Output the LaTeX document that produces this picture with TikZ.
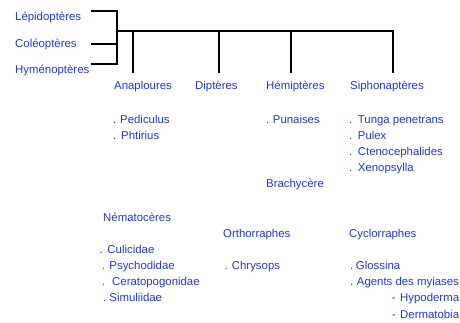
\documentclass[tikz,border=0pt]{standalone}
\usepackage{fontspec}
\setmainfont{Liberation Sans}
\definecolor{txtblue}{RGB}{30,55,225}
\newcommand{\dotgap}[2]{.\hspace{\dimexpr #1pt-3.17pt\relax}#2}
\begin{document}
\begin{tikzpicture}[x=1pt,y=-1pt,
  lbl/.style={anchor=west,inner sep=0pt,text height=10.7pt,text depth=2.5pt,text=txtblue,font=\fontsize{11.4}{13}\selectfont},
  tree/.style={line width=1.6pt,black}]
\useasboundingbox (0,0) rectangle (460,322);
% top-left group
\node[lbl] (lep) at (15,16) {Lépidoptères};
\node[lbl] (col) at (15,43) {Coléoptères};
\node[lbl] (hym) at (15,69) {Hyménoptères};
% orders
\node[lbl] (ana) at (114,85) {Anaploures};
\node[lbl] (dip) at (195,85) {Diptères};
\node[lbl] (hem) at (266,85) {Hémiptères};
\node[lbl] (sip) at (350,85) {Siphonaptères};
% connector coordinates
\coordinate (lepE) at (91,11);
\coordinate (colE) at (91,44);
\coordinate (hymE) at (91,64);
\coordinate (bt) at (117,11);
\coordinate (bm) at (117,44);
\coordinate (bb) at (117,64);
\coordinate (mj) at (117,31);
\coordinate (anaT) at (133,31);
\coordinate (anaB) at (133,73);
\coordinate (dipT) at (219,31);
\coordinate (dipB) at (219,73);
\coordinate (hemT) at (291,31);
\coordinate (hemB) at (291,73);
\coordinate (sipT) at (393,31);
\coordinate (sipB) at (393,73);
\draw[tree] (lepE) -- (bt) -- (bb) -- (hymE);
\draw[tree] (colE) -- (bm);
\draw[tree] (mj) -- (sipT) -- (sipB);
\draw[tree] (anaT) -- (anaB);
\draw[tree] (dipT) -- (dipB);
\draw[tree] (hemT) -- (hemB);
% Anaploures
\node[lbl] (ped) at (113,119) {\dotgap{7}{Pediculus}};
\node[lbl] (pht) at (113,135) {\dotgap{8}{Phtirius}};
% Hemipteres
\node[lbl] (pun) at (266,119) {\dotgap{6.7}{Punaises}};
% Siphonapteres
\node[lbl] (tun) at (349,119) {\dotgap{8.7}{Tunga penetrans}};
\node[lbl] (pul) at (349,135) {\dotgap{8.7}{Pulex}};
\node[lbl] (cte) at (349,151) {\dotgap{8.7}{Ctenocephalides}};
\node[lbl] (xen) at (349,167) {\dotgap{8.7}{Xenopsylla}};
% Dipteres
\node[lbl] (bra) at (266,183) {Brachycère};
\node[lbl] (nem) at (103,217) {Nématocères};
\node[lbl] (ort) at (223,233) {Orthorraphes};
\node[lbl] (cyc) at (349,233) {Cyclorraphes};
\node[lbl] (cul) at (99.3,249) {\dotgap{8}{Culicidae}};
\node[lbl] (psy) at (101.7,265) {\dotgap{7.6}{Psychodidae}};
\node[lbl] (cer) at (101.7,281) {\dotgap{10.3}{Ceratopogonidae}};
\node[lbl] (sim) at (103,297) {\dotgap{6.3}{Simuliidae}};
\node[lbl] (chr) at (224.3,265) {\dotgap{7.4}{Chrysops}};
\node[lbl] (glo) at (350,265) {\dotgap{5.7}{Glossina}};
\node[lbl] (age) at (350,281) {\dotgap{6.7}{Agents des myiases}};
\node[lbl] (hyp) at (391.7,297) {-\hspace{4.5pt}Hypoderma};
\node[lbl] (der) at (391.7,314) {-\hspace{4.5pt}Dermatobia};
\end{tikzpicture}
\end{document}
